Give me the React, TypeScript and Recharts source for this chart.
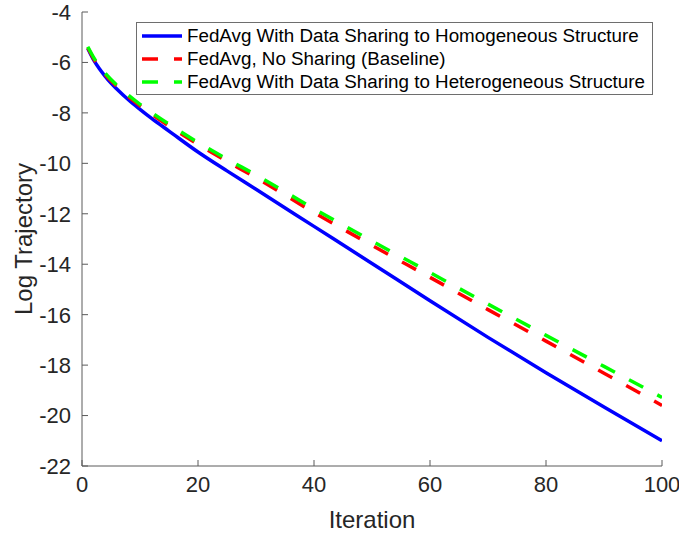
import { LineChart, Line, XAxis, YAxis, Label } from "recharts";

const ITERATIONS = [1, 2, 3, 4, 5, 6, 8, 10, 12, 15, 20, 25, 30, 40, 50, 60, 70, 80, 90, 100];
const HOMOGENEOUS = [-5.45, -5.9, -6.25, -6.55, -6.82, -7.05, -7.48, -7.86, -8.22, -8.72, -9.55, -10.3, -11.03, -12.5, -13.97, -15.45, -16.9, -18.3, -19.66, -21.0];
const BASELINE = [-5.42, -5.85, -6.2, -6.48, -6.73, -6.95, -7.36, -7.72, -8.05, -8.52, -9.25, -9.92, -10.57, -11.95, -13.25, -14.52, -15.8, -17.05, -18.32, -19.6];
const HETEROGENEOUS = [-5.38, -5.8, -6.15, -6.43, -6.68, -6.9, -7.3, -7.66, -7.99, -8.45, -9.17, -9.83, -10.46, -11.8, -13.08, -14.33, -15.58, -16.82, -18.05, -19.28];

const X_TICKS = [0, 20, 40, 60, 80, 100];
const Y_TICKS = [-22, -20, -18, -16, -14, -12, -10, -8, -6, -4];

const SERIES = [
  { key: "homo", name: "FedAvg With Data Sharing to Homogeneous Structure", color: "#0000ff", dash: undefined },
  { key: "base", name: "FedAvg, No Sharing (Baseline)", color: "#ff0000", dash: "16 16" },
  { key: "hetero", name: "FedAvg With Data Sharing to Heterogeneous Structure", color: "#00ff00", dash: "16 16" },
];

const data = ITERATIONS.map((it, i) => ({
  it,
  homo: HOMOGENEOUS[i],
  base: BASELINE[i],
  hetero: HETEROGENEOUS[i],
}));

const FONT = '"Liberation Sans", Arial, Helvetica, sans-serif';
const TEXT = "#262626";
const AXIS = "#5a5a5a";
const TICK_LEN = 6;
const X_MARGIN = 9;
const Y_MARGIN = 11;

// MATLAB-style ticks point into the plot box
const BottomTick = ({ x, y, payload }: any) => (
  <g>
    <line x1={x} x2={x} y1={y - X_MARGIN} y2={y - X_MARGIN - TICK_LEN} stroke={AXIS} />
    <text x={x} y={y} dy="0.75em" textAnchor="middle" fill={TEXT} fontSize={22} fontFamily={FONT}>
      {payload.value}
    </text>
  </g>
);

const LeftTick = ({ x, y, payload }: any) => (
  <g>
    <line x1={x + Y_MARGIN} x2={x + Y_MARGIN + TICK_LEN} y1={y} y2={y} stroke={AXIS} />
    <text x={x} y={y} dy="0.36em" textAnchor="end" fill={TEXT} fontSize={22} fontFamily={FONT}>
      {payload.value}
    </text>
  </g>
);

const TopTick = ({ x, y }: any) => <line x1={x} x2={x} y1={y} y2={y + TICK_LEN} stroke={AXIS} />;
const RightTick = ({ x, y }: any) => <line x1={x} x2={x - TICK_LEN} y1={y} y2={y} stroke={AXIS} />;

const XTitle = ({ viewBox }: any) => {
  const vb = viewBox || { x: 82, y: 466, width: 580 };
  return (
    <text x={vb.x + vb.width / 2} y={vb.y + 53} textAnchor="middle" dominantBaseline="central" fill={TEXT} fontSize={24} fontFamily={FONT}>
      Iteration
    </text>
  );
};

const YTitle = ({ viewBox }: any) => {
  const vb = viewBox || { x: 22, y: 12, height: 454 };
  const cx = vb.x + 1;
  const cy = vb.y + vb.height / 2;
  return (
    <text x={cx} y={cy} transform={`rotate(-90 ${cx} ${cy})`} textAnchor="middle" dominantBaseline="central" fill={TEXT} fontSize={24} fontFamily={FONT}>
      Log Trajectory
    </text>
  );
};

function LegendBox() {
  return (
    <div
      style={{
        position: "absolute",
        left: 136,
        top: 22,
        width: 517,
        height: 73,
        boxSizing: "border-box",
        border: "1px solid #6e6e6e",
        background: "#fff",
        fontFamily: FONT,
        fontSize: 18.8,
        color: "#000",
        paddingTop: 1,
      }}
    >
      {SERIES.map((s) => (
        <div key={s.key} style={{ display: "flex", alignItems: "center", height: 23, whiteSpace: "nowrap" }}>
          <svg width={50} height={10} style={{ flex: "none" }}>
            <line x1={5} x2={45} y1={5} y2={5} stroke={s.color} strokeWidth={3.5} strokeDasharray={s.dash} />
          </svg>
          <span>{s.name}</span>
        </div>
      ))}
    </div>
  );
}

export default function App() {
  return (
    <div style={{ position: "absolute", left: 0, top: 0, width: 679, height: 533, background: "#fff" }}>
      <LineChart width={679} height={533} data={data} margin={{ top: 12, right: 17, bottom: 0, left: 22 }}>
        <XAxis
          dataKey="it"
          type="number"
          domain={[0, 100]}
          ticks={X_TICKS}
          interval={0}
          height={67}
          tickSize={0}
          tickMargin={X_MARGIN}
          tickLine={false}
          tick={<BottomTick />}
          axisLine={{ stroke: AXIS }}
          allowDataOverflow
        >
          <Label content={<XTitle />} />
        </XAxis>
        <XAxis
          xAxisId="top"
          orientation="top"
          dataKey="it"
          type="number"
          domain={[0, 100]}
          ticks={X_TICKS}
          interval={0}
          height={0}
          tickSize={0}
          tickMargin={0}
          tickLine={false}
          tick={<TopTick />}
          axisLine={{ stroke: AXIS }}
          allowDataOverflow
        />
        <YAxis
          type="number"
          domain={[-22, -4]}
          ticks={Y_TICKS}
          interval={0}
          width={60}
          tickSize={0}
          tickMargin={Y_MARGIN}
          tickLine={false}
          tick={<LeftTick />}
          axisLine={{ stroke: AXIS }}
          allowDataOverflow
        >
          <Label content={<YTitle />} />
        </YAxis>
        <YAxis
          yAxisId="right"
          orientation="right"
          type="number"
          domain={[-22, -4]}
          ticks={Y_TICKS}
          interval={0}
          width={0}
          tickSize={0}
          tickMargin={0}
          tickLine={false}
          tick={<RightTick />}
          axisLine={{ stroke: AXIS }}
          allowDataOverflow
        />
        {SERIES.map((s) => (
          <Line
            key={s.key}
            dataKey={s.key}
            name={s.name}
            type="monotone"
            stroke={s.color}
            strokeWidth={3.5}
            strokeDasharray={s.dash}
            dot={false}
            activeDot={false}
            isAnimationActive={false}
          />
        ))}
      </LineChart>
      <LegendBox />
    </div>
  );
}
